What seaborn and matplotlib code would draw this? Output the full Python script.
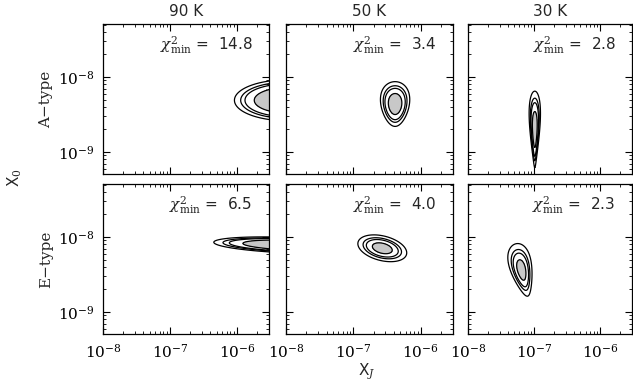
import numpy as np
import matplotlib
matplotlib.use("Agg")
import matplotlib.pyplot as plt
from matplotlib.ticker import FixedLocator, FixedFormatter, NullFormatter
import seaborn as sns

# ---- data ----
temperatures = ["90 K", "50 K", "30 K"]
row_types = ["A\u2212type", "E\u2212type"]
chi2_min = [[14.8, 3.4, 2.8],
            [6.5, 4.0, 2.3]]
# best-fit location (log10 XJ, log10 X0) of each chi^2 surface
center_log_xj = [[-5.25, -6.38, -6.99],
                 [-5.19, -6.57, -7.19]]
center_log_x0 = [[-8.31, -8.36, -8.70],
                 [-8.11, -8.15, -8.44]]
# 1-sigma widths (decades) along the principal axes
width_log_xj = [[0.49, 0.10, 0.035],
                [0.72, 0.15, 0.062]]
width_log_x0 = [[0.17, 0.14, 0.24],
                [0.065, 0.067, 0.14]]
tilt_deg = [[0.0, 0.0, 0.0],
            [-2.0, -12.0, 15.0]]
shape_power = [[4.0, 2.5, 2.5],
               [4.0, 2.1, 2.0]]
taper = [[0.0, 0.1, 0.3],
         [0.0, 0.0, 0.15]]
delta_chi2_levels = [1.0, 2.71, 4.0, 6.63]

x_tick_values = [1e-8, 1e-7, 1e-6]
x_tick_labels = [r"$10^{-8}$", r"$10^{-7}$", r"$10^{-6}$"]
y_tick_values = [1e-9, 1e-8]
y_tick_labels = [r"$10^{-9}$", r"$10^{-8}$"]
xlim_log = (-8.0, -5.52)
ylim_log = (-9.293, -7.293)

sns.set_style("ticks")
plt.rcParams["font.family"] = ["DejaVu Sans"]
plt.rcParams["mathtext.fontset"] = "dejavuserif"

fig = plt.figure(figsize=(6.33, 3.89), dpi=100)

W, H = 633.0, 389.0
col_left = [103, 286, 468]
col_width = [166, 167, 164]
row_top = [24, 184]
row_h = 150

lx = np.linspace(xlim_log[0] - 0.05, xlim_log[1] + 0.05, 500)
ly = np.linspace(ylim_log[0] - 0.05, ylim_log[1] + 0.05, 500)
LX, LY = np.meshgrid(lx, ly)


def minor_ticks(lo, hi):
    out = []
    for d in range(int(np.floor(lo)) - 1, int(np.ceil(hi)) + 1):
        for s in range(2, 10):
            val = s * 10.0 ** d
            if 10 ** lo < val < 10 ** hi:
                out.append(val)
    return out


x_minor = minor_ticks(*xlim_log)
y_minor = minor_ticks(*ylim_log)

for r in range(2):
    for c in range(3):
        ax = fig.add_axes([col_left[c] / W, 1 - (row_top[r] + row_h) / H,
                           col_width[c] / W, row_h / H])
        th = np.deg2rad(tilt_deg[r][c])
        dx = LX - center_log_xj[r][c]
        dy = LY - center_log_x0[r][c]
        u = dx * np.cos(th) + dy * np.sin(th)
        v = -dx * np.sin(th) + dy * np.cos(th)
        sv = width_log_x0[r][c]
        su = width_log_xj[r][c] * np.clip(1 + taper[r][c] * v / sv, 0.15, None)
        rr = (u / su) ** 2 + (v / sv) ** 2
        dchi = rr ** (shape_power[r][c] / 2.0)
        X, Y = 10 ** LX, 10 ** LY
        ax.contourf(X, Y, dchi, levels=[-1, delta_chi2_levels[0]],
                    colors=["#c8c8c8"])
        ax.contour(X, Y, dchi, levels=delta_chi2_levels, colors="black",
                   linewidths=0.9)
        ax.set_xscale("log")
        ax.set_yscale("log")
        ax.set_xlim(10 ** xlim_log[0], 10 ** xlim_log[1])
        ax.set_ylim(10 ** ylim_log[0], 10 ** ylim_log[1])
        ax.xaxis.set_major_locator(FixedLocator(x_tick_values))
        ax.yaxis.set_major_locator(FixedLocator(y_tick_values))
        ax.xaxis.set_minor_locator(FixedLocator(x_minor))
        ax.yaxis.set_minor_locator(FixedLocator(y_minor))
        ax.tick_params(which="both", direction="in", top=True, right=True,
                       labelsize=11, colors="black")
        ax.tick_params(which="major", length=5, width=0.8, pad=6)
        ax.tick_params(which="minor", length=2.5, width=0.6)
        for s in ax.spines.values():
            s.set_linewidth(0.9)
            s.set_color("black")
        if r == 1:
            ax.xaxis.set_major_formatter(FixedFormatter(x_tick_labels))
        else:
            ax.xaxis.set_major_formatter(NullFormatter())
        if c == 0:
            ax.yaxis.set_major_formatter(FixedFormatter(y_tick_labels))
        else:
            ax.yaxis.set_major_formatter(NullFormatter())
        ax.xaxis.set_minor_formatter(NullFormatter())
        ax.yaxis.set_minor_formatter(NullFormatter())
        ax.text(0.90, 0.86, r"$\chi^2_{\rm min}$ =  %.1f" % chi2_min[r][c],
                transform=ax.transAxes, ha="right", va="center", fontsize=11)
        if r == 0:
            ax.set_title(temperatures[c], fontsize=11, pad=6)
        if c == 0:
            ax.text(-0.34, 0.5, row_types[r], transform=ax.transAxes,
                    rotation=90, ha="center", va="center", fontsize=11,
                    family="DejaVu Serif")

fig.text(15 / W, 1 - 178 / H, r"X$_0$", rotation=90, ha="center",
         va="center", fontsize=11)
fig.text(367 / W, 1 - 372 / H, r"X$_J$", ha="center", va="center",
         fontsize=11)

fig.savefig("out.png", dpi=100)
